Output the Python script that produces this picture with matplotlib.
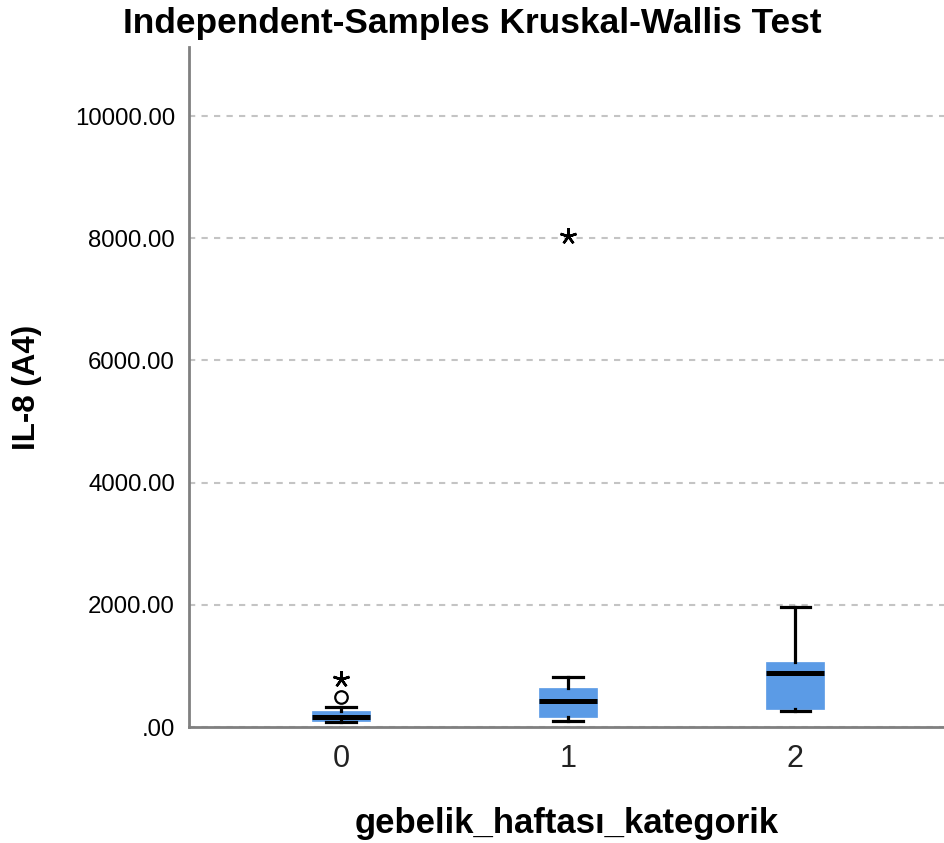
import matplotlib
matplotlib.use("Agg")
import matplotlib.pyplot as plt

plt.rcParams['font.family'] = ['Liberation Sans', 'DejaVu Sans']

categories = ["0", "1", "2"]
whislo = [82, 98, 262]
q1 = [98, 164, 295]
med = [164, 425, 884]
q3 = [262, 638, 1064]
whishi = [327, 818, 1964]
circle_outliers = [[491], [], []]
star_outliers = [[785], [8036], []]
yticks = [0, 2000, 4000, 6000, 8000, 10000]
ytick_labels = [".00", "2000.00", "4000.00", "6000.00", "8000.00", "10000.00"]

fig = plt.figure(figsize=(9.44, 8.43), dpi=100)
ax = fig.add_axes([189/944, 116/843, 1 - 189/944, (727-47)/843])

stats = []
for i in range(3):
    stats.append(dict(whislo=whislo[i], q1=q1[i], med=med[i], q3=q3[i], whishi=whishi[i], fliers=[]))

blue = "#5B9BE6"
ax.bxp(stats, positions=range(3), widths=0.255, patch_artist=True, showfliers=False,
       boxprops=dict(facecolor=blue, edgecolor=blue, linewidth=0.5),
       medianprops=dict(color="black", linewidth=3.6, solid_capstyle="butt"),
       whiskerprops=dict(color="black", linewidth=2.3),
       capprops=dict(color="black", linewidth=2.3),
       capwidths=0.13, zorder=3)

for i in range(3):
    if circle_outliers[i]:
        ax.plot([i]*len(circle_outliers[i]), circle_outliers[i], 'o', mfc='white', mec='black',
                ms=9, mew=1.6, zorder=4)
    if star_outliers[i]:
        ax.plot([i]*len(star_outliers[i]), star_outliers[i], marker=(5, 2, 0), color='black',
                ms=12, mew=1.8, ls='none', zorder=4)

ax.set_xlim(-0.67, 2.655)
ax.set_ylim(0, 11130)
ax.set_xticks(range(3))
ax.set_xticklabels(categories, fontsize=22, color="#222222")
ax.set_yticks(yticks)
ax.set_yticklabels(ytick_labels, fontsize=17.3)
ax.tick_params(axis='both', length=0)
ax.tick_params(axis='y', pad=10)
ax.tick_params(axis='x', pad=12)
ax.yaxis.grid(True, linestyle=(0, (3, 3)), color="#c4c4c4", linewidth=1.5)
ax.set_axisbelow(True)
for s in ['top', 'right']:
    ax.spines[s].set_visible(False)
for s in ['left', 'bottom']:
    ax.spines[s].set_color("#808080")
    ax.spines[s].set_linewidth(2)

ax.set_ylabel("IL-8 (A4)", fontsize=22.5, fontweight='bold', labelpad=24)
ax.set_xlabel("gebelik_haftası_kategorik", fontsize=25, fontweight='bold', labelpad=24)
fig.text(0.5, 0.972, "Independent-Samples Kruskal-Wallis Test", fontsize=25.4, fontweight='bold',
         ha='center', va='center')

fig.savefig("out.png", dpi=100)
